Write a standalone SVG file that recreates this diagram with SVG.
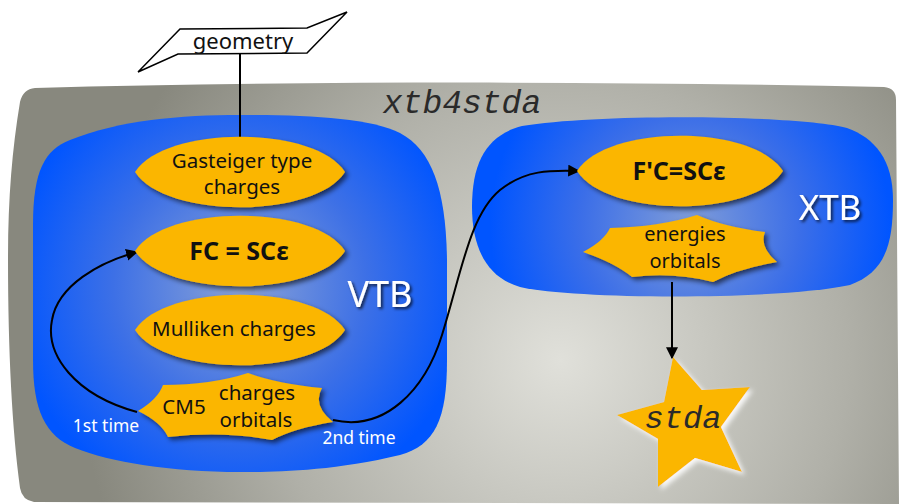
<svg xmlns="http://www.w3.org/2000/svg" width="899" height="504" viewBox="0 0 899 504">
<defs>
<radialGradient id="gGray" cx="560" cy="360" r="480" gradientUnits="userSpaceOnUse">
<stop offset="0" stop-color="#e0e0da"/>
<stop offset="0.6" stop-color="#b0b0a8"/>
<stop offset="1" stop-color="#88887e"/>
</radialGradient>
<radialGradient id="gVtb" cx="240" cy="285" r="230" gradientUnits="userSpaceOnUse">
<stop offset="0" stop-color="#8aa2d6"/>
<stop offset="0.55" stop-color="#3d70e6"/>
<stop offset="1" stop-color="#0055ff"/>
</radialGradient>
<radialGradient id="gXtb" cx="690" cy="225" r="200" gradientUnits="userSpaceOnUse">
<stop offset="0" stop-color="#7f9cd8"/>
<stop offset="0.55" stop-color="#3b6ee8"/>
<stop offset="1" stop-color="#0055ff"/>
</radialGradient>
<filter id="shadow" x="-20%" y="-30%" width="150%" height="170%">
<feGaussianBlur in="SourceAlpha" stdDeviation="2.5"/>
<feOffset dx="3" dy="3" result="b"/>
<feFlood flood-color="#000" flood-opacity="0.6"/>
<feComposite in2="b" operator="in"/>
<feMerge><feMergeNode/><feMergeNode in="SourceGraphic"/></feMerge>
</filter>
<filter id="glow" x="-20%" y="-20%" width="150%" height="150%">
<feGaussianBlur in="SourceAlpha" stdDeviation="2.5"/>
<feOffset dx="3" dy="3" result="b"/>
<feFlood flood-color="#fff" flood-opacity="0.9"/>
<feComposite in2="b" operator="in"/>
<feMerge><feMergeNode/><feMergeNode in="SourceGraphic"/></feMerge>
</filter>
<filter id="tshadow" x="-20%" y="-30%" width="150%" height="170%">
<feGaussianBlur in="SourceAlpha" stdDeviation="1.5"/>
<feOffset dx="2" dy="2" result="b"/>
<feFlood flood-color="#000" flood-opacity="0.7"/>
<feComposite in2="b" operator="in"/>
<feMerge><feMergeNode/><feMergeNode in="SourceGraphic"/></feMerge>
</filter>
<marker id="arr" viewBox="0 0 10 10" refX="9" refY="5" markerWidth="6" markerHeight="6" orient="auto" markerUnits="strokeWidth">
<path d="M0,0 L10,5 L0,10 Z" fill="#000"/>
</marker>
</defs>
<style>
.node{fill:#fbb600;filter:url(#shadow)}
.t{font-family:"Noto Sans","Open Sans",sans-serif;fill:#111;text-anchor:middle}
.b{font-weight:bold}
.w{font-family:"Noto Sans","Open Sans",sans-serif;fill:#fff}
.mono{font-family:"Liberation Mono","Courier New",monospace;font-style:italic;fill:#2a2a2a}
.ln{fill:none;stroke:#000;stroke-width:2}
</style>

<g id="xtb4stda">
<path d="M35,88 C300,81 600,81 884,87 Q896,88 896,100 L899,504 L34,502 Q22,500 20,488 C12,430 8,350 8,260 C8,200 12,150 20,102 Q23,89 35,88 Z" fill="url(#gGray)"/>
<text class="mono" x="462" y="113" font-size="33" text-anchor="middle">xtb4stda</text>
</g>

<g id="VTB">
<path d="M33,300 L33,225 C33,170 45,150 70,140 C120,120 180,115 240,115 C310,115 370,118 400,133 C432,150 446,190 447,260 L447,360 C447,420 435,445 400,455 C330,472 270,472 240,472 C170,472 110,462 75,448 C45,436 33,410 33,360 Z" fill="url(#gVtb)"/>
<text class="w" x="380" y="307" font-size="36" text-anchor="middle" filter="url(#tshadow)">VTB</text>
</g>

<g id="XTB">
<path d="M522,126 C600,113 800,115 847,128 C875,138 893,160 893,200 C893,245 885,272 850,285 C780,300 580,300 520,287 C485,277 472,245 472,207 C472,160 488,135 522,126 Z" fill="url(#gXtb)"/>
<text class="w" x="830" y="220" font-size="35" text-anchor="middle" filter="url(#tshadow)">XTB</text>
</g>

<g id="connectors">
<line class="ln" x1="240" y1="54" x2="240" y2="138"/>
<path class="ln" d="M137,412 C75,395 45,355 52,320 C58,285 100,262 137,252" marker-end="url(#arr)"/>
<path class="ln" d="M333,420 C385,432 425,390 442,335 C462,270 470,215 500,190 C525,170 550,170 579,171" marker-end="url(#arr)"/>
<line class="ln" x1="672" y1="282" x2="672" y2="358" marker-end="url(#arr)"/>
</g>

<g id="geometry">
<polygon points="138,72 180,29 307,28 347,12 307,53 178,54" fill="#fff" stroke="#000" stroke-width="1.5"/>
<text class="t" x="243" y="49" font-size="22">geometry</text>
</g>

<g id="gasteiger">
<path class="node" d="M135,172 C165,125 315,125 345,172 C315,219 165,219 135,172 Z"/>
<text class="t" x="242" y="168" font-size="20.5">Gasteiger type</text>
<text class="t" x="242" y="194" font-size="20.5">charges</text>
</g>

<g id="fc">
<path class="node" d="M135,251 C165,204 315,204 345,251 C315,298 165,298 135,251 Z"/>
<text class="t b" x="239" y="260" font-size="25">FC = SCε</text>
</g>

<g id="mulliken">
<path class="node" d="M135,330 C165,283 315,283 345,330 C315,377 165,377 135,330 Z"/>
<text class="t" x="234" y="336" font-size="20.5">Mulliken charges</text>
</g>

<g id="cm5">
<path class="node" d="M163,385 Q211,385 248,373 Q278,384 322,388 Q312,405 333,422 Q295,428 272,440 Q224,431 168,437 Q161,422 138,411 Q158,399 163,385 Z"/>
<text class="t" x="184" y="414" font-size="20.5">CM5</text>
<text class="t" x="257" y="400" font-size="20.5">charges</text>
<text class="t" x="256" y="427" font-size="20.5">orbitals</text>
</g>

<g id="fpc">
<path class="node" d="M577,171 C607,124 753,124 783,171 C753,218 607,218 577,171 Z"/>
<text class="t b" x="679" y="180" font-size="25">F'C=SCε</text>
</g>

<g id="energies">
<path class="node" d="M610,228 Q659,227 697,215 Q724,227 765,232 Q759,247 777,262 Q737,269 713,282 Q674,272 632,277 Q615,263 583,252 Q604,241 610,228 Z"/>
<text class="t" x="685" y="241" font-size="20">energies</text>
<text class="t" x="685" y="268" font-size="20">orbitals</text>
</g>

<g id="stda">
<polygon points="673,357 702,390 750,387 721,427 742,472 695,458 658,487 658,439 617,415 664,402" fill="#fbb600" filter="url(#glow)"/>
<text class="mono" x="683" y="428" font-size="32" text-anchor="middle">stda</text>
</g>

<g id="labels">
<text class="w" x="106" y="432" font-size="17.5" text-anchor="middle">1st time</text>
<text class="w" x="359" y="444" font-size="17.5" text-anchor="middle">2nd time</text>
</g>
</svg>
